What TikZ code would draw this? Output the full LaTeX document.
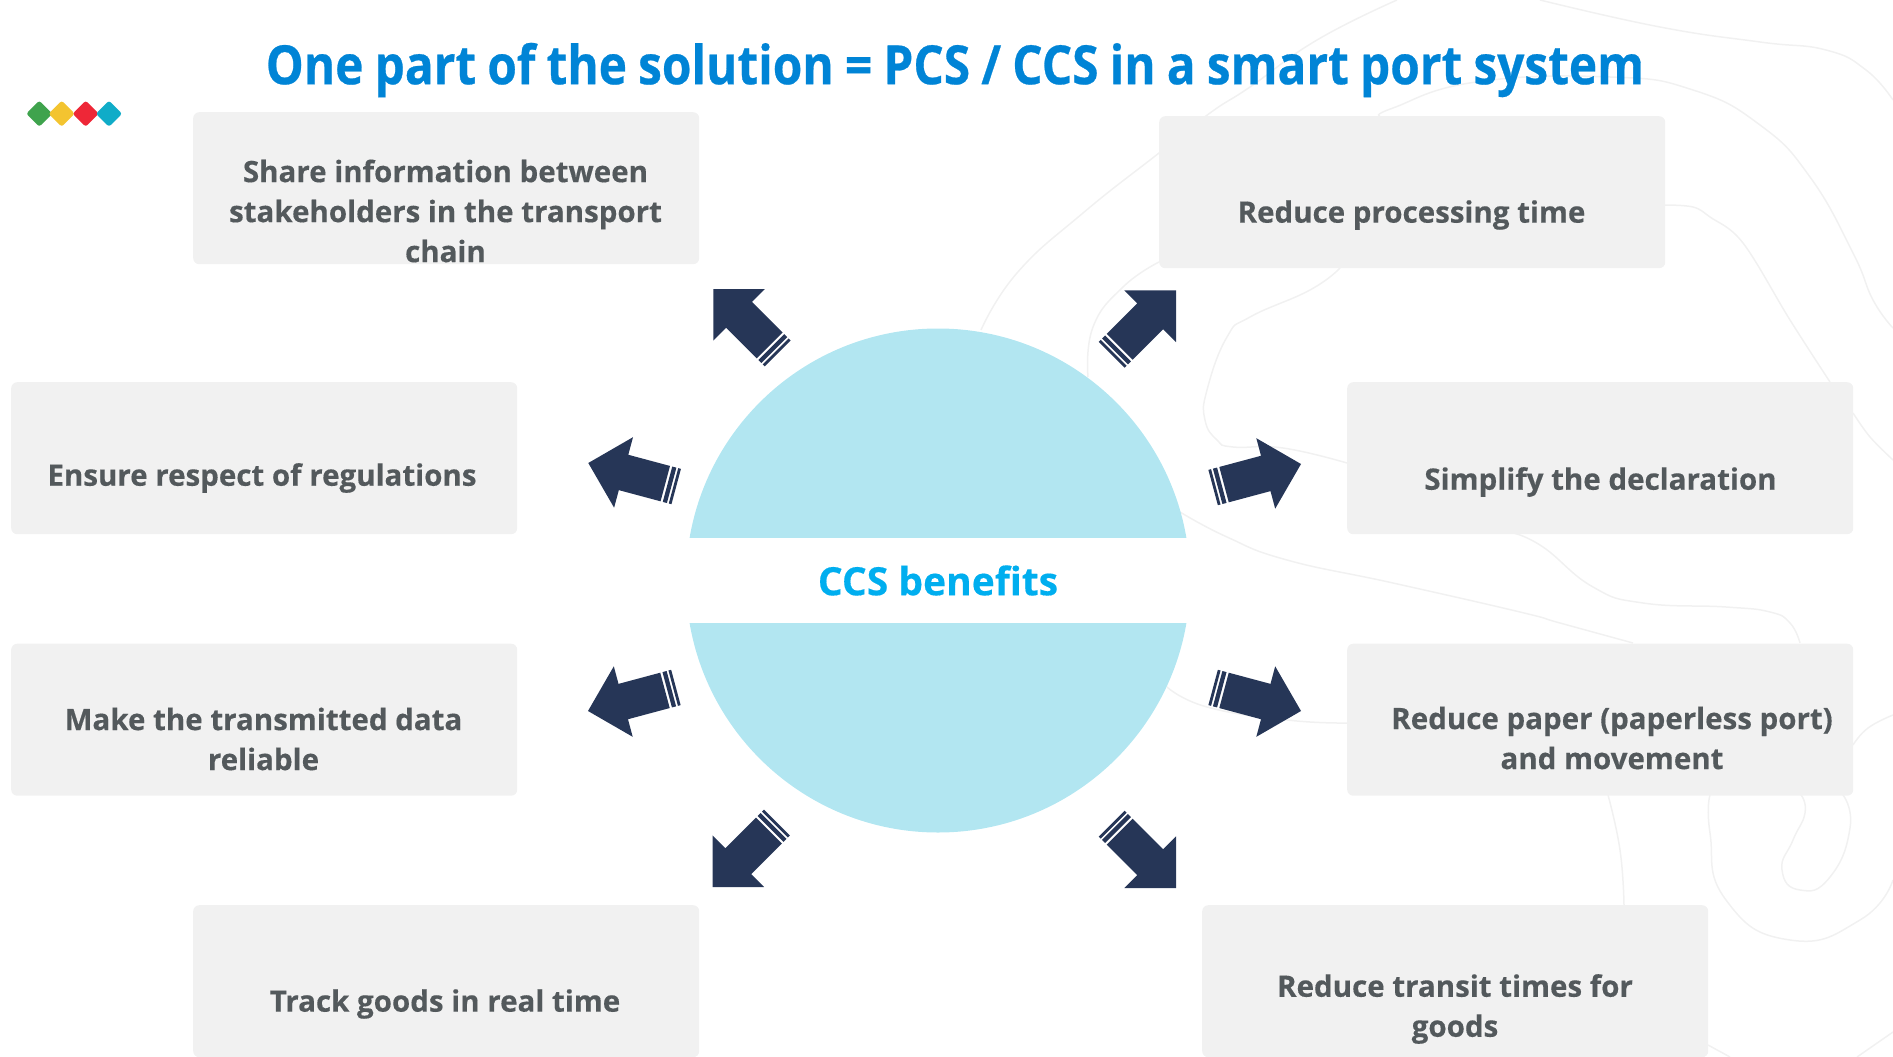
\documentclass[tikz,border=0pt]{standalone}
\usepackage{fontspec}
\setmainfont[BoldFeatures={FakeBold=0.35}]{Open Sans}
\newfontfamily\titlefont[WordSpace=0.9,BoldFeatures={FakeStretch=0.885,FakeBold=0.5}]{Open Sans}
\definecolor{boxgrey}{HTML}{F1F1F1}
\definecolor{txtgrey}{HTML}{53595C}
\definecolor{titleblue}{HTML}{0084D6}
\definecolor{ccsblue}{HTML}{00AEEF}
\definecolor{circblue}{HTML}{B2E6F1}
\definecolor{navy}{HTML}{263657}
\definecolor{curvegrey}{HTML}{F1F1F1}
\definecolor{logogreen}{HTML}{3FA34D}
\definecolor{logoyellow}{HTML}{F3C430}
\definecolor{logored}{HTML}{EE2737}
\definecolor{logoblue}{HTML}{10ACC8}
\tikzset{
  boxnode/.style={fill=boxgrey,draw=none,rounded corners=6pt,minimum width=506pt,minimum height=152pt,inner sep=0pt,anchor=north west},
  boxlabel/.style={font=\fontsize{29.5}{40}\selectfont\bfseries,text=txtgrey,align=center,inner sep=0pt},
  bgcurve/.style={draw=curvegrey,line width=1.5pt},
  logodia/.style={rectangle,fill=#1,rotate=45,minimum size=18.5pt,rounded corners=2.5pt,inner sep=0pt},
}
\newcommand{\ccsarrow}[4]{%
  \coordinate (#1) at (#2,#3);
  \begin{scope}[shift={(#1)},rotate=#4,x=1pt,y=1pt]
    \fill[navy] (0,0) -- (-36.5,36.5) -- (-36.5,18.3) -- (-79.7,18.3) -- (-79.7,-18.3) -- (-36.5,-18.3) -- (-36.5,-36.5) -- cycle;
    \fill[navy] (-82,18.3) rectangle (-86.3,-18.3);
    \fill[navy] (-88.2,18.3) rectangle (-91,-18.3);
  \end{scope}}
\begin{document}
\begin{tikzpicture}[x=1pt,y=-1pt]
\useasboundingbox (0,0) rectangle (1893,1057);
% background contour lines
\draw[bgcurve] plot[smooth,tension=0.8] coordinates {(981,330) (1017,273) (1083,213) (1159,153) (1210,113) (1250,87) (1317,40) (1397,0)};
\draw[bgcurve] plot[smooth,tension=0.8] coordinates {(1540,0) (1660,27) (1760,42) (1826,50) (1866,70) (1893,100)};
\draw[bgcurve] plot[smooth,tension=0.8] coordinates {(1340,268) (1310,290) (1250,317) (1227,337) (1207,390) (1205,420) (1217,440) (1233,447) (1283,448) (1347,463)};
\draw[bgcurve] plot[smooth,tension=0.8] coordinates {(1380,116) (1393,108) (1476,82) (1610,77) (1693,90) (1760,125) (1810,177) (1853,253) (1873,300) (1893,328)};
\draw[bgcurve] plot[smooth,tension=0.8] coordinates {(1159,262) (1123,287) (1093,327) (1088,377)};
\draw[bgcurve] plot[smooth,tension=0.6] coordinates {(1665,205) (1693,207) (1710,217) (1743,243) (1790,320) (1830,382)};
\draw[bgcurve] plot[smooth,tension=0.6] coordinates {(1853,413) (1870,437) (1893,460)};
\draw[bgcurve] plot[smooth,tension=0.8] coordinates {(1180,512) (1227,537) (1287,560) (1393,583) (1520,612) (1560,623) (1633,643)};
\draw[bgcurve] plot[smooth,tension=0.8] coordinates {(1513,533) (1543,547) (1593,587) (1643,603) (1726,607) (1770,612) (1790,623) (1800,643)};
\draw[bgcurve] plot[smooth,tension=0.9] coordinates {(1801,795) (1805,813) (1793,840) (1782,870) (1800,890) (1830,877) (1850,828) (1843,795)};
\draw[bgcurve] plot[smooth,tension=0.8] coordinates {(1893,715) (1868,728) (1853,745)};
\draw[bgcurve] plot[smooth,tension=0.9] coordinates {(1710,795) (1710,833) (1726,900) (1790,940) (1860,920) (1893,880)};
\draw[bgcurve] plot[smooth,tension=0.8] coordinates {(1608,795) (1620,850) (1624,905)};
\draw[bgcurve] plot[smooth,tension=0.8] coordinates {(1167,687) (1207,707) (1287,720) (1347,723)};
\draw[bgcurve] plot[smooth,tension=0.8] coordinates {(1708,1045) (1730,1057)};
\draw[bgcurve] plot[smooth,tension=0.8] coordinates {(1857,1057) (1893,1032)};
% title
\node (title) at (955,70) {\titlefont\fontsize{54}{60}\selectfont\bfseries\textcolor{titleblue}{One part of the solution = PCS / CCS in a smart port system}};
% logo
\node[logodia=logogreen] (d1) at (39.3,113.7) {};
\node[logodia=logoyellow] (d2) at (61.7,113.7) {};
\node[logodia=logored] (d3) at (85.7,113.7) {};
\node[logodia=logoblue] (d4) at (109,113.7) {};
% centre
\node[circle,fill=circblue,draw=none,minimum size=504pt,inner sep=0pt] (ccsdisc) at (938,580.5) {};
\node[fill=white,minimum width=512pt,minimum height=85pt,inner sep=0pt,font=\fontsize{39}{44}\selectfont\bfseries,text=ccsblue] (ccslabel) at (938,580.5) {CCS benefits};
% boxes
\node[boxnode] (b1) at (193,112) {};
\node[boxnode] (b2) at (1159,116) {};
\node[boxnode] (b3) at (11,382) {};
\node[boxnode] (b4) at (1347,382) {};
\node[boxnode] (b5) at (11,643.5) {};
\node[boxnode] (b6) at (1347,643.5) {};
\node[boxnode] (b7) at (193,905) {};
\node[boxnode] (b8) at (1202,905) {};
% labels
\node[boxlabel] (t1) at (445.5,211) {Share information between\\stakeholders in the transport\\chain};
\node[boxlabel] (t2) at (1411.5,215) {Reduce processing time};
\node[boxlabel] (t3) at (262,478) {Ensure respect of regulations};
\node[boxlabel] (t4) at (1600.5,482) {Simplify the declaration};
\node[boxlabel] (t5) at (263.5,739) {Make the transmitted data\\reliable};
\node[boxlabel] (t6) at (1612,738) {Reduce paper (paperless port)\\and movement};
\node[boxlabel] (t7) at (445,1004) {Track goods in real time};
\node[boxlabel] (t8) at (1455,1009) {Reduce transit times for\\goods};
% arrows
\ccsarrow{a1}{713.3}{289}{135}
\ccsarrow{a2}{1176}{290.4}{45}
\ccsarrow{a3}{588.3}{463}{165}
\ccsarrow{a4}{1301}{464}{15}
\ccsarrow{a5}{588}{711}{195}
\ccsarrow{a6}{1301}{711}{-15}
\ccsarrow{a7}{712.6}{887}{225}
\ccsarrow{a8}{1176}{888}{-45}
\end{tikzpicture}
\end{document}
